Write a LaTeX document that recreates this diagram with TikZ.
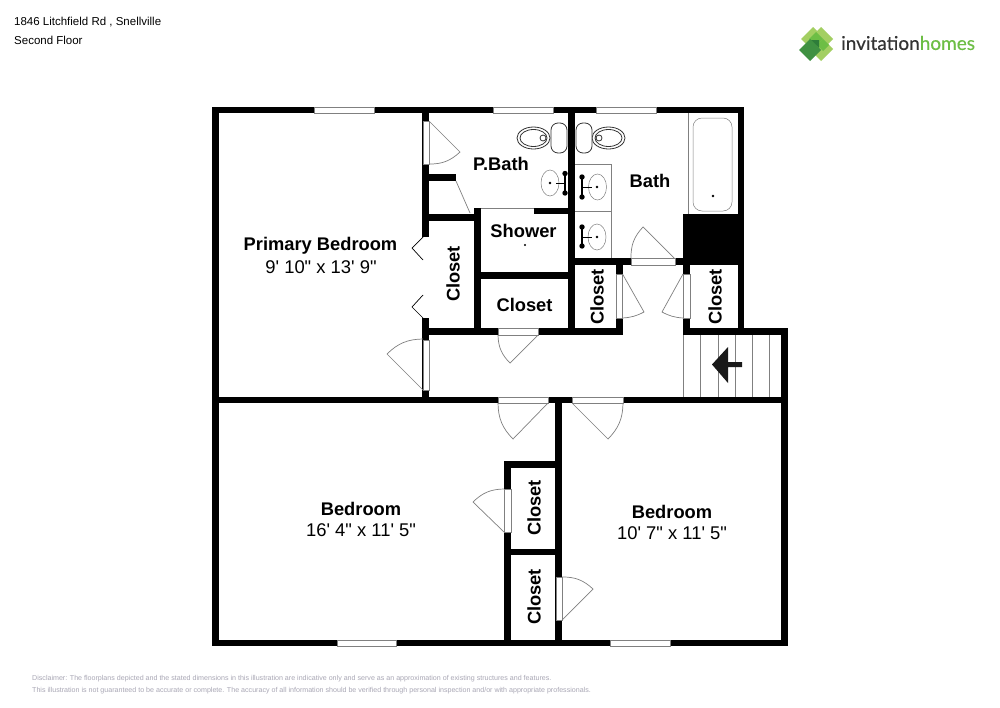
\documentclass[tikz,border=0pt]{standalone}
\usepackage{fontspec}
\usepackage{xcolor}
\usepackage{tikz}
\newfontfamily\planfont{Liberation Sans}
\newfontfamily\logofont[FakeBold=0.35]{Lato}
\definecolor{cLeafLight}{HTML}{A3CF62}
\definecolor{cLeafMid}{HTML}{6DBE45}
\definecolor{cLeafDark}{HTML}{3F9142}
\definecolor{cLeafDeep}{HTML}{2E7D3A}
\definecolor{cNote}{HTML}{A9A7B5}

\begin{document}
\begin{tikzpicture}[x=1pt,y=-1pt,
  wall/.style={black,line width=6.8pt},
  opening/.style={draw=gray,line width=0.5pt,fill=white},
  leaf/.style={draw=gray,line width=0.7pt},
  basin/.style={draw=gray,line width=0.5pt},
  fixture/.style={draw=black!80,line width=0.8pt},
  room/.style={font=\planfont\bfseries\fontsize{18.3}{20}\selectfont,align=center,inner sep=0pt},
  size/.style={font=\planfont\fontsize{18.4}{20}\selectfont,align=center,inner sep=0pt},
  corner/.style={font=\planfont\fontsize{11.5}{13}\selectfont,anchor=west,inner sep=0pt},
  note/.style={font=\planfont\fontsize{7.1}{8}\selectfont,text=cNote,anchor=west,inner sep=0pt}]
\useasboundingbox (0,0) rectangle (1000,707);
\fill[white] (0,0) rectangle (1000,707);
% outer walls
\draw[wall] (212,110) -- (744,110);
\draw[wall] (215.5,107) -- (215.5,646);
\draw[wall] (741,107) -- (741,335);
\draw[wall] (683,331.5) -- (788,331.5);
\draw[wall] (784.5,328) -- (784.5,646);
\draw[wall] (212,643) -- (788,643);
\draw[wall] (212,400) -- (788,400);
% inner walls
\draw[wall] (425.5,107) -- (425.5,403);
\draw[wall] (571.5,107) -- (571.5,335);
\draw[wall] (423,217.5) -- (481,217.5);
\draw[wall] (477.5,208) -- (477.5,335);
\draw[wall] (534,211) -- (571,211);
\draw[wall] (429,177.5) -- (456,177.5);
\draw[wall] (477,275.5) -- (571,275.5);
\draw[wall] (423,331.5) -- (622.5,331.5);
\draw[wall] (571,261.5) -- (744,261.5);
\draw[wall] (619.5,258) -- (619.5,335);
\draw[wall] (686.5,258) -- (686.5,335);
\fill[black] (683,214) rectangle (744,265);
\draw[wall] (558.5,397) -- (558.5,646);
\draw[wall] (507.5,461) -- (507.5,646);
\draw[wall] (504,464.5) -- (562,464.5);
\draw[wall] (504,552) -- (562,552);
% windows
\filldraw[opening] (314,107) rectangle (374,113);
\filldraw[opening] (493,107) rectangle (553,113);
\filldraw[opening] (596,107) rectangle (656,113);
\filldraw[opening] (337,640) rectangle (396,646);
\filldraw[opening] (610,640) rectangle (670,646);
% door openings
\fill[white] (422,237) rectangle (429.2,318);
\filldraw[opening] (423,121) rectangle (429,164);
\filldraw[opening] (423,340) rectangle (429,390);
\filldraw[opening] (498,328) rectangle (538,335);
\filldraw[opening] (631,258) rectangle (675,265);
\filldraw[opening] (616,274) rectangle (622.5,318);
\filldraw[opening] (683,274) rectangle (690,318);
\filldraw[opening] (498,397) rectangle (548,403);
\filldraw[opening] (572,397) rectangle (623,403);
\filldraw[opening] (504,489) rectangle (511,532);
\filldraw[opening] (556,577) rectangle (562,620);
% shower curb
\fill[white] (481,207.5) rectangle (534,214.1);
\draw[leaf] (474,208) -- (534,208);
\draw[wall] (477.5,208) -- (477.5,221);
% door leaves
\draw[leaf] (429,121) -- (460,152) to[bend left=22] (429,164);
\draw[leaf] (456,181) -- (470,213);
\draw[leaf] (538,335) -- (510,363) to[bend left=22] (498,335);
\draw[leaf] (674,258) -- (643,227) to[bend right=22] (631,258);
\draw[leaf] (622.5,274) -- (644,312) to[bend left=12] (622.5,318);
\draw[leaf] (683,274) -- (662,312) to[bend right=12] (683,318);
\draw[leaf] (423,390) -- (387,354) to[bend left=22] (423,339);
\draw[leaf] (548,403) -- (513,439) to[bend left=22] (498,403);
\draw[leaf] (572,403) -- (608,439) to[bend right=22] (623,403);
\draw[leaf] (504,532) -- (473,502) to[bend left=22] (504,489);
\draw[leaf] (562,620) -- (593,589) to[bend right=22] (562,577);
% bifold closet doors
\draw[black,line width=0.7pt] (423,237) -- (412,248) -- (423,260);
\draw[black,line width=0.7pt] (423,295) -- (412,307) -- (423,318);
% stairs
\draw[leaf] (683,335) -- (683,397);
\draw[leaf] (700,335) -- (700,397);
\draw[leaf] (718,335) -- (718,397);
\draw[leaf] (735,335) -- (735,397);
\draw[leaf] (752,335) -- (752,397);
\draw[leaf] (769,335) -- (769,397);
\fill[black!90] (712,364.5) -- (728,347) -- (728,362) -- (742,362) -- (742,367) -- (728,367) -- (728,383) -- cycle;
% tub
\draw[basin] (688,113) -- (688,214);
\draw[basin,rounded corners=9pt] (693,118) rectangle (732,211);
\fill[black] (713,196) circle[radius=1.3];
% vanity
\draw[draw=gray,line width=0.7pt] (575,164) -- (611,164) -- (611,258);
\draw[draw=gray,line width=0.7pt] (575,211) -- (611,211);
% sinks
\draw[basin] (550,183) ellipse[x radius=9,y radius=13];
\fill[black] (550,183) circle[radius=1.3];
\draw[black,line width=1pt] (556,183) -- (565,183);
\draw[black,line width=1.4pt] (565,174) -- (565,193);
\fill[black] (565,173.5) circle[radius=2.7];
\fill[black] (565,193) circle[radius=2.7];
\draw[basin] (597.5,187) ellipse[x radius=9,y radius=13];
\fill[black] (597,187) circle[radius=1.3];
\draw[black,line width=1pt] (582,187) -- (592,187);
\draw[black,line width=1.4pt] (582,177) -- (582,197);
\fill[black] (582,177) circle[radius=2.7];
\fill[black] (582,197) circle[radius=2.7];
\draw[basin] (597,237) ellipse[x radius=9,y radius=13];
\fill[black] (597,237) circle[radius=1.3];
\draw[black,line width=1pt] (582,237) -- (592,237);
\draw[black,line width=1.4pt] (582,227) -- (582,246);
\fill[black] (582,227) circle[radius=2.7];
\fill[black] (582,246) circle[radius=2.7];
% toilets
\draw[fixture] (533.5,138) ellipse[x radius=16.5,y radius=11];
\draw[fixture] (533.5,138) ellipse[x radius=13.5,y radius=8.5];
\draw[fixture,fill=white] (543,138) circle[radius=3];
\draw[fixture,rounded corners=7pt,fill=white] (551,123) rectangle (567,153);
\draw[fixture] (608.5,138) ellipse[x radius=16.5,y radius=11];
\draw[fixture] (608.5,138) ellipse[x radius=13.5,y radius=8.5];
\draw[fixture,fill=white] (599,138) circle[radius=3];
\draw[fixture,rounded corners=7pt,fill=white] (576,123) rectangle (592,153);
\fill[black] (525,245) circle[radius=1.2];
% room labels
\node[room] (primaryName) at (320.5,246) {Primary Bedroom};
\node[size] (primarySize) at (321,267) {9' 10" x 13' 9"};
\node[room] (pbathName) at (501,164) {P.Bath};
\node[room] (bathName) at (650,181) {Bath};
\node[room] (showerName) at (523.5,231) {Shower};
\node[room] (closetMid) at (524.5,305) {Closet};
\node[room,rotate=90] (closetLong) at (453,274) {Closet};
\node[room,rotate=90] (closetBath) at (597,297) {Closet};
\node[room,rotate=90] (closetHall) at (715,297) {Closet};
\node[room,rotate=90] (closetUpper) at (534,508) {Closet};
\node[room,rotate=90] (closetLower) at (534,597) {Closet};
\node[room] (bedLeftName) at (361,509) {Bedroom};
\node[size] (bedLeftSize) at (361,530) {16' 4" x 11' 5"};
\node[room] (bedRightName) at (672,512) {Bedroom};
\node[size] (bedRightSize) at (672,533) {10' 7" x 11' 5"};
% page texts
\node[corner] (address) at (14,22) {1846 Litchfield Rd , Snellville};
\node[corner] (floorName) at (14,40) {Second Floor};
\node[note] (noteOne) at (32,678.5) {Disclaimer: The floorplans depicted and the stated dimensions in this illustration are indicative only and serve as an approximation of existing structures and features.};
\node[note] (noteTwo) at (32,690.5) {This illustration is not guaranteed to be accurate or complete. The accuracy of all information should be verified through personal inspection and/or with appropriate professionals.};
% logo
\fill[cLeafLight] (813,27) -- (825,39) -- (813,51) -- (801,39) -- cycle;
\fill[cLeafLight] (821,27) -- (833,39) -- (821,51) -- (809,39) -- cycle;
\fill[cLeafLight] (821,37) -- (833,49) -- (821,61) -- (809,49) -- cycle;
\fill[cLeafMid] (816,32) -- (823,39) -- (816,46) -- (809,39) -- cycle;
\fill[cLeafMid] (823,39) -- (829,45) -- (823,51) -- (817,45) -- cycle;
\fill[cLeafDark] (810,39) -- (821,50) -- (810,61) -- (799,50) -- cycle;
\fill[cLeafDeep] (811,40) -- (819,40) -- (819,48) -- cycle;
\node[font=\logofont\fontsize{19}{22}\selectfont,text=black!80,anchor=west,inner sep=0pt] (logoText) at (841,43) {invitation\textcolor{cLeafMid}{homes}};
\end{tikzpicture}
\end{document}
